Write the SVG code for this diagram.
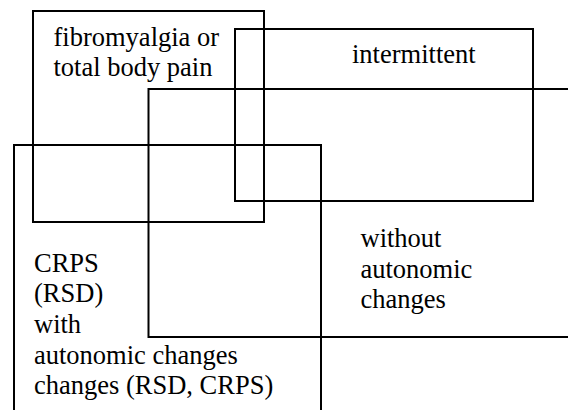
<svg xmlns="http://www.w3.org/2000/svg" width="568" height="410" viewBox="0 0 568 410">
<style>
.box{fill:none;stroke:#000;stroke-width:2}
</style>
<rect width="568" height="410" fill="#fff"/>
<g font-family="Liberation Serif, Times New Roman, serif" font-size="26.5" fill="#000">
<g id="fibromyalgia">
<rect class="box" x="33" y="11" width="231" height="211"/>
<text x="53.5" y="45.7">fibromyalgia or</text>
<text x="53.5" y="76.3">total body pain</text>
</g>
<g id="intermittent">
<rect class="box" x="235" y="29" width="298" height="172"/>
<text x="352" y="63.3">intermittent</text>
</g>
<g id="without-autonomic">
<path class="box" d="M568,89 H148.5 V337 H568"/>
<text x="360.5" y="246.7">without</text>
<text x="360.5" y="277.5">autonomic</text>
<text x="360.5" y="308.3">changes</text>
</g>
<g id="crps">
<path class="box" d="M14,410 V145 H321 V410"/>
<text x="34" y="271.7">CRPS</text>
<text x="34" y="302.3">(RSD)</text>
<text x="34" y="333">with</text>
<text x="34" y="363.6">autonomic changes</text>
<text x="34" y="394.2">changes (RSD, CRPS)</text>
</g>
</g>
<g id="connectors"/>
</svg>
